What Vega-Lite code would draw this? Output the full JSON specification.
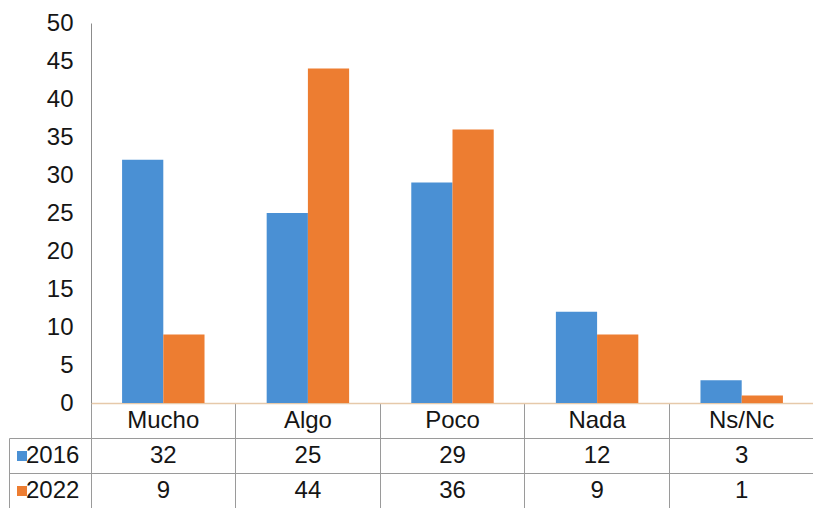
{
  "$schema": "https://vega.github.io/schema/vega-lite/v6.json",
  "padding": {"left": 8, "top": 11, "right": 0, "bottom": 0},
  "config": {"view": {"stroke": null}, "font": "Liberation Sans"},
  "bounds": "flush",
  "spacing": 35,
  "data": {"values": [
    {"category": "Mucho", "year": "2016", "value": 32},
    {"category": "Algo", "year": "2016", "value": 25},
    {"category": "Poco", "year": "2016", "value": 29},
    {"category": "Nada", "year": "2016", "value": 12},
    {"category": "Ns/Nc", "year": "2016", "value": 3},
    {"category": "Mucho", "year": "2022", "value": 9},
    {"category": "Algo", "year": "2022", "value": 44},
    {"category": "Poco", "year": "2022", "value": 36},
    {"category": "Nada", "year": "2022", "value": 9},
    {"category": "Ns/Nc", "year": "2022", "value": 1}
  ]},
  "vconcat": [
    {
      "width": 723,
      "height": 380,
      "mark": {"type": "bar"},
      "encoding": {
        "x": {
          "field": "category", "type": "nominal",
          "sort": ["Mucho", "Algo", "Poco", "Nada", "Ns/Nc"],
          "scale": {"type": "band", "paddingInner": 0, "paddingOuter": 0},
          "axis": {
            "title": null, "orient": "bottom", "labelAngle": 0,
            "domainColor": "#E6C9AA", "domainWidth": 1.5,
            "ticks": true, "tickSize": 35, "tickColor": "#9A9A9A", "bandPosition": 0,
            "labelFontSize": 24, "labelColor": "#151515", "labelPadding": -17.5, "labelBaseline": "middle",
            "grid": false
          }
        },
        "xOffset": {
          "field": "year", "type": "nominal",
          "scale": {"paddingInner": 0, "paddingOuter": 0.754}
        },
        "y": {
          "field": "value", "type": "quantitative",
          "scale": {"domain": [0, 50], "nice": false},
          "axis": {
            "title": null, "values": [0, 5, 10, 15, 20, 25, 30, 35, 40, 45, 50],
            "ticks": false, "grid": false, "domainColor": "#8C8C8C",
            "labelFontSize": 24, "labelColor": "#151515", "labelPadding": 18
          }
        },
        "color": {
          "field": "year", "type": "nominal",
          "scale": {"domain": ["2016", "2022"], "range": ["#4A90D4", "#ED7D31"]},
          "legend": {
            "title": null, "orient": "none", "legendX": -81, "legendY": 421,
            "symbolType": "square", "symbolSize": 100, "symbolStrokeWidth": 0,
            "labelFontSize": 24, "labelOffset": -8, "rowPadding": 11, "padding": 0,
            "labelColor": "#151515"
          }
        }
      }
    },
    {
      "width": 723,
      "height": 70,
      "mark": {"type": "text", "fontSize": 24, "color": "#151515"},
      "encoding": {
        "x": {
          "field": "category", "type": "nominal",
          "sort": ["Mucho", "Algo", "Poco", "Nada", "Ns/Nc"],
          "scale": {"type": "band", "paddingInner": 0, "paddingOuter": 0},
          "axis": {
            "title": null, "orient": "bottom", "labels": false, "ticks": false, "domain": false,
            "grid": true, "gridColor": "#9A9A9A", "bandPosition": 0
          }
        },
        "y": {
          "field": "year", "type": "nominal",
          "scale": {"type": "band", "domain": ["2016", "2022"], "paddingInner": 0, "paddingOuter": 0},
          "axis": {
            "title": null, "orient": "left", "offset": 82, "labels": false,
            "ticks": true, "tickSize": -82, "tickColor": "#9A9A9A", "bandPosition": 0,
            "grid": true, "gridColor": "#9A9A9A", "domainColor": "#9A9A9A"
          }
        },
        "text": {"field": "value", "type": "quantitative"}
      }
    }
  ]
}
